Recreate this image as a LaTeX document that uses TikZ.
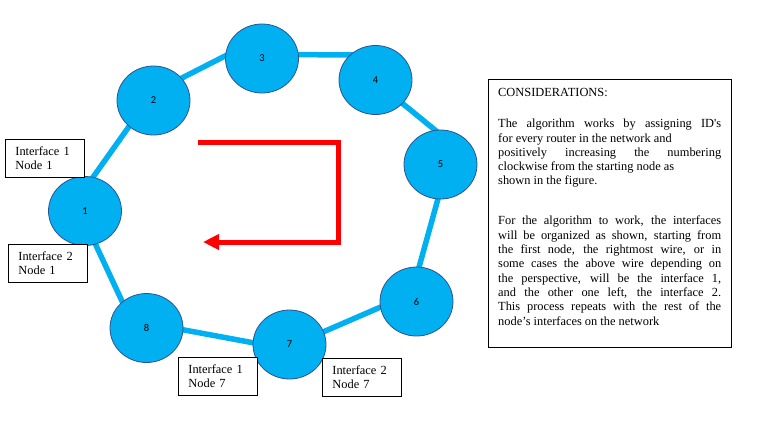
\documentclass[tikz,border=0pt]{standalone}
\usepackage{fontspec}
\setmainfont{Liberation Serif}
\newfontfamily\nodefont{Carlito}
\usetikzlibrary{shapes.geometric,arrows.meta,backgrounds,calc}
\definecolor{wireblue}{HTML}{00B0F0}
\definecolor{rimblue}{HTML}{2F528F}
\begin{document}
\begin{tikzpicture}[x=1pt,y=-1pt,
  router/.style={ellipse, draw=rimblue, line width=0.8pt, fill=wireblue,
    minimum width=73pt, minimum height=69pt, inner sep=0pt,
    font=\nodefont\fontsize{10.5}{12}\selectfont},
  wire/.style={wireblue, line width=5.5pt},
  ifbox/.style={draw=black, line width=0.8pt, fill=white, align=left,
    anchor=north west, inner xsep=10pt, inner ysep=0pt, text width=59pt,
    minimum height=38pt, font=\fontsize{12.4}{14.4}\selectfont},
  flow/.style={red, line width=5pt, -{Triangle[length=16pt,width=15pt]}},
  consbox/.style={draw=black, line width=0.8pt, minimum width=243pt,
    minimum height=268pt, anchor=north west, inner sep=0pt},
  constext/.style={anchor=north west, align=left, inner sep=0pt,
    font=\fontsize{12.4}{14.3}\selectfont}]
\useasboundingbox (0,0) rectangle (765,421);

% routers
\node[router] (n1) at (85,211) {1};
\node[router] (n2) at (153.5,100.5) {2};
\node[router] (n3) at (262,58.5) {3};
\node[router] (n4) at (375.5,80) {4};
\node[router] (n5) at (440.5,164.5) {5};
\node[router] (n6) at (416.5,301.5) {6};
\node[router] (n7) at (289.5,344.5) {7};
\node[router] (n8) at (146.5,328) {8};

% wires behind the routers
\begin{pgfonlayer}{background}
\draw[wire] ($(n1.center)+(-16,0)$) -- ($(n2.center)+(-6,0)$);
\draw[wire] ($(n2.center)+(0,-8)$) -- ($(n3.center)+(0,-21.4)$);
\draw[wire] ($(n3.center)+(0,-4)$) -- ($(n4.center)+(0,-25)$);
\draw[wire] ($(n4.center)+(0,1.3)$) -- ($(n5.center)+(4.5,-26.3)$);
\draw[wire] ($(n5.center)+(7,0)$) -- ($(n6.center)+(-7,0)$);
\draw[wire] ($(n6.center)+(0,-10)$) -- ($(n7.center)+(0,2)$);
\draw[wire] ($(n7.center)+(0,5)$) -- ($(n8.center)+(0,-5)$);
\draw[wire] ($(n8.center)+(-12,0)$) -- ($(n1.center)+(-5,0)$);
\end{pgfonlayer}

% interface labels
\node[ifbox] (if11) at (5,139) {Interface 1\\Node 1};
\node[ifbox] (if21) at (8,244) {Interface 2\\Node 1};
\node[ifbox] (if17) at (178,357) {Interface 1\\Node 7};
\node[ifbox] (if27) at (322,358) {Interface 2\\Node 7};

% red direction arrow
\coordinate (a1) at (198,142);
\coordinate (a2) at (338,142);
\coordinate (a3) at (338,242);
\coordinate (a4) at (203,242);
\draw[flow] (a1) -- (a2) -- (a3) -- (a4);

% considerations
\node[consbox] (cbox) at (488,79) {};
\node[constext] (ctext) at (498,88) {%
CONSIDERATIONS:\\[17pt]
\makebox[223pt][s]{The algorithm works by assigning ID\textquotesingle s}\\
for every router in the network and\\
\makebox[223pt][s]{positively increasing the numbering}\\
clockwise from the starting node as\\
shown in the figure.\\[25.7pt]
\makebox[223pt][s]{For the algorithm to work, the interfaces}\\
\makebox[223pt][s]{will be organized as shown, starting from}\\
\makebox[223pt][s]{the first node, the rightmost wire, or in}\\
\makebox[223pt][s]{some cases the above wire depending on}\\
\makebox[223pt][s]{the perspective, will be the interface 1,}\\
\makebox[223pt][s]{and the other one left, the interface 2.}\\
\makebox[223pt][s]{This process repeats with the rest of the}\\
node’s interfaces on the network};
\end{tikzpicture}
\end{document}
